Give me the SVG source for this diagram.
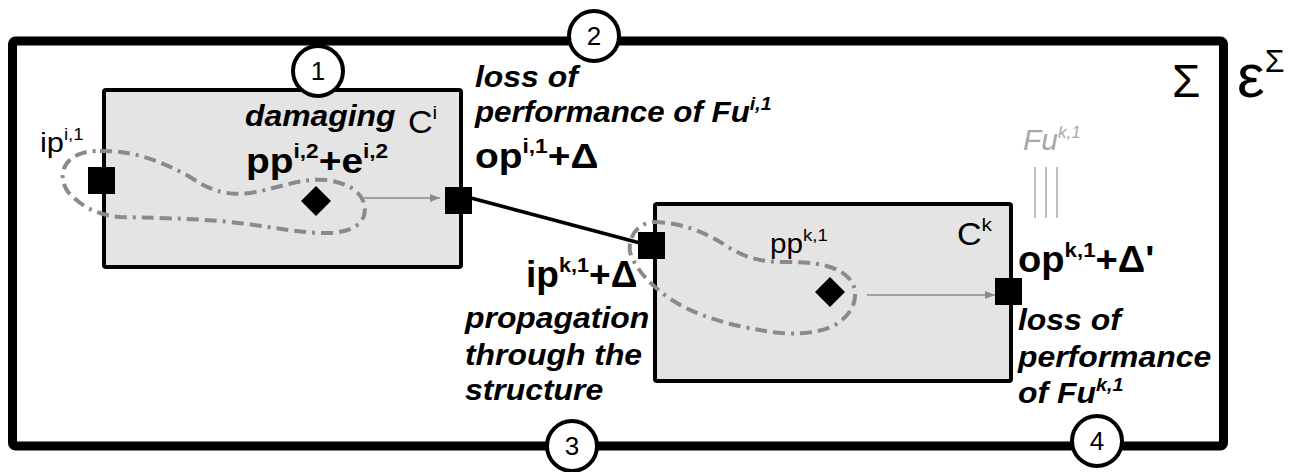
<svg xmlns="http://www.w3.org/2000/svg" width="1289" height="472" viewBox="0 0 1289 472">
<style>
text{font-family:"Liberation Sans",Arial,sans-serif;fill:#000}
.bi{font-weight:bold;font-style:italic;font-size:29px}
.bf{font-weight:bold;font-size:36px}
.rg{font-size:28px}
.box{fill:#e4e4e4;stroke:#000;stroke-width:4}
.port{fill:#000}
.loop{fill:none;stroke:#8a8a8a;stroke-width:4;stroke-dasharray:12 6 12 6 3 6}
.flow{stroke:#8a8a8a;stroke-width:1.5;fill:none}
.num circle{fill:#fff;stroke:#000;stroke-width:4}
.num text{font-size:26px;text-anchor:middle}
</style>
<defs>
<marker id="ah" viewBox="0 0 10 10" refX="10" refY="5" markerWidth="10" markerHeight="8" markerUnits="userSpaceOnUse" orient="auto" preserveAspectRatio="none">
<path d="M0,0 L10,5 L0,10 Z" fill="#8a8a8a"/>
</marker>
</defs>
<rect width="1289" height="472" fill="#fff"/>
<g id="system">
<rect x="12.5" y="41" width="1211" height="405" rx="3" fill="none" stroke="#000" stroke-width="9"/>
<text x="1172" y="97" style="font-size:46px">Σ</text>
<text x="1237" y="97" style="font-size:62px">ε<tspan dy="-25" style="font-size:32px">Σ</tspan></text>
</g>
<g id="component-i">
<rect class="box" x="104" y="90" width="357" height="177" rx="2"/>
<path class="loop" d="M100,151 C130,150 160,160 190,177 C210,190 225,196 250,193 C280,188 300,178 325,180 C345,182 360,190 364,203 C368,220 358,230 333,233 C300,234 270,226 230,222 C190,218 150,218 120,217 C95,215 80,205 68,192 C58,178 62,160 80,154 C88,151 94,151 100,151 Z"/>
<line class="flow" x1="364" y1="198" x2="440" y2="198" marker-end="url(#ah)"/>
<rect class="port" x="88" y="167" width="27" height="27"/>
<rect class="port" x="445" y="187" width="27" height="27"/>
<path d="M316,186 L331,201 L316,216 L301,201 Z" fill="#000"/>
<text class="rg" transform="translate(40,152) scale(1.1,1)">ip<tspan dy="-12" style="font-size:17px">i,1</tspan></text>
<text class="bi" transform="translate(245,126) scale(1.1,1)">damaging</text>
<text transform="translate(408,133) scale(1.1,1)" style="font-size:31px">C<tspan dy="-14" style="font-size:19px">i</tspan></text>
<text class="bf" transform="translate(246,173) scale(1.08,1)">pp<tspan dy="-15" style="font-size:21px">i,2</tspan><tspan dy="15">+e</tspan><tspan dy="-15" style="font-size:21px">i,2</tspan></text>
</g>
<g id="component-k">
<rect class="box" x="655" y="204" width="356" height="177" rx="2"/>
<path class="loop" d="M653,222 C680,222 705,232 725,245 C745,258 760,262 785,262 C815,262 840,265 852,282 C860,298 852,315 835,325 C815,335 790,335 765,331 C735,326 700,318 672,300 C650,285 636,270 630,252 C628,238 636,224 653,222 Z"/>
<line class="flow" x1="867" y1="295" x2="995" y2="295" marker-end="url(#ah)"/>
<rect class="port" x="638" y="232" width="27" height="27"/>
<rect class="port" x="995" y="278" width="27" height="27"/>
<path d="M830,277 L845,292 L830,307 L815,292 Z" fill="#000"/>
<text transform="translate(770,253) scale(1.1,1)" style="font-size:27px">pp<tspan dy="-12" style="font-size:17px">k,1</tspan></text>
<text transform="translate(957,245) scale(1.1,1)" style="font-size:31px">C<tspan dy="-14" style="font-size:19px">k</tspan></text>
</g>
<g id="labels">
<text class="bi" transform="translate(475,87) scale(1.1,1)">loss of</text>
<text class="bi" transform="translate(475,122) scale(1.08,1)">performance of Fu<tspan dy="-12" style="font-size:18px">i,1</tspan></text>
<text class="bf" transform="translate(475,168) scale(1.08,1)">op<tspan dy="-15" style="font-size:21px">i,1</tspan><tspan dy="15">+Δ</tspan></text>
<text class="bf" transform="translate(526,287) scale(1.03,1)">ip<tspan dy="-15" style="font-size:21px">k,1</tspan><tspan dy="15">+Δ</tspan></text>
<text class="bi" transform="translate(465,328) scale(1.1,1)">propagation</text>
<text class="bi" transform="translate(465,365) scale(1.1,1)">through the</text>
<text class="bi" transform="translate(465,400) scale(1.1,1)">structure</text>
<text class="bf" transform="translate(1018,272) scale(1.06,1)">op<tspan dy="-15" style="font-size:21px">k,1</tspan><tspan dy="15">+Δ'</tspan></text>
<text class="bi" transform="translate(1018,330) scale(1.1,1)">loss of</text>
<text class="bi" transform="translate(1018,367) scale(1.1,1)">performance</text>
<text class="bi" transform="translate(1018,403) scale(1.1,1)">of Fu<tspan dy="-12" style="font-size:18px">k,1</tspan></text>
<text x="1023" y="150" style="font-size:30px;font-style:italic;fill:#a8a8a8">Fu<tspan dy="-12" style="font-size:17px;fill:#a8a8a8">k,1</tspan></text>
<g stroke="#aaa" stroke-width="1.5">
<line x1="1035" y1="167" x2="1035" y2="218"/>
<line x1="1046" y1="167" x2="1046" y2="218"/>
<line x1="1057" y1="167" x2="1057" y2="218"/>
</g>
</g>
<g id="connectors">
<line x1="471" y1="198" x2="640" y2="243" stroke="#000" stroke-width="3.5"/>
</g>
<g id="step-1" class="num"><circle cx="318" cy="71" r="25"/><text x="318" y="80">1</text></g>
<g id="step-2" class="num"><circle cx="594" cy="36" r="25"/><text x="594" y="45">2</text></g>
<g id="step-3" class="num"><circle cx="572" cy="446" r="25"/><text x="572" y="455">3</text></g>
<g id="step-4" class="num"><circle cx="1097" cy="441" r="25"/><text x="1097" y="450">4</text></g>
</svg>
